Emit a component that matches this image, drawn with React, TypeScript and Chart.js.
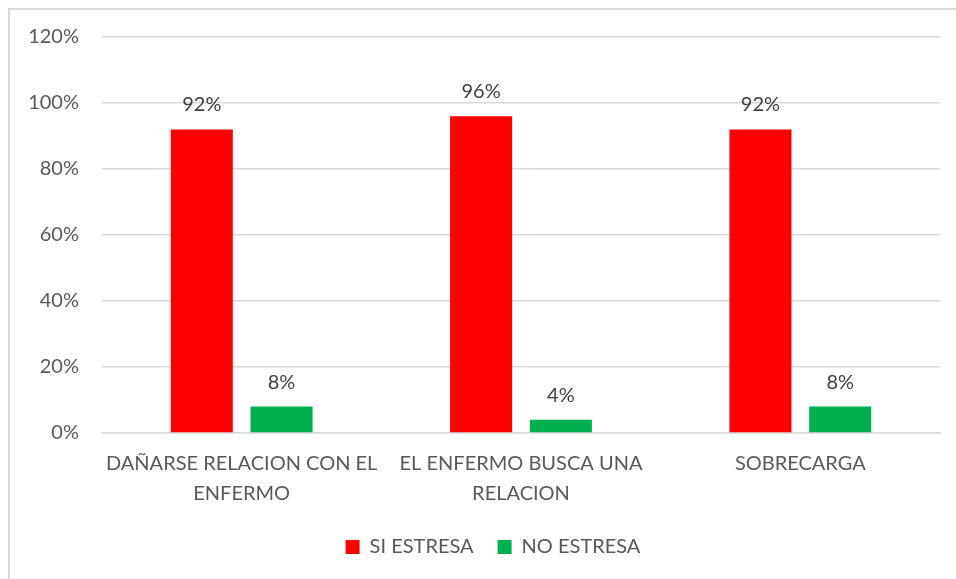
import { useEffect, useRef } from "react";
import { Chart, registerables } from "chart.js";

Chart.register(...registerables);

const categories: (string | string[])[] = [
  ["DAÑARSE RELACION CON EL", "ENFERMO"],
  ["EL ENFERMO BUSCA UNA", "RELACION"],
  "SOBRECARGA",
];
const siEstresa = [92, 96, 92];
const noEstresa = [8, 4, 8];
const seriesNames = ["SI ESTRESA", "NO ESTRESA"];
const yMax = 120;
const yStep = 20;

const FONT = "Lato";

const dataLabels = {
  id: "dataLabels",
  afterDatasetsDraw(chart: any) {
    const ctx = chart.ctx;
    ctx.save();
    ctx.font = `20px ${FONT}`;
    ctx.fillStyle = "#404040";
    ctx.textAlign = "center";
    ctx.textBaseline = "alphabetic";
    chart.data.datasets.forEach((ds: any, i: number) => {
      const meta = chart.getDatasetMeta(i);
      meta.data.forEach((el: any, j: number) => {
        ctx.fillText(ds.data[j] + "%", el.x, el.y - 18);
      });
    });
    ctx.restore();
  },
};

const legendShift = {
  id: "legendShift",
  afterLayout(chart: any) {
    const lg = chart.legend;
    if (lg) {
      lg.left += 18;
      lg.right += 18;
    }
  },
};

export default function App() {
  const ref = useRef<HTMLCanvasElement>(null);
  useEffect(() => {
    if (!ref.current) return;
    const chart = new Chart(ref.current, {
      type: "bar",
      data: {
        labels: categories,
        datasets: [
          {
            label: seriesNames[0],
            data: siEstresa,
            backgroundColor: "#FF0000",
            categoryPercentage: 0.571,
            barPercentage: 0.778,
          },
          {
            label: seriesNames[1],
            data: noEstresa,
            backgroundColor: "#00B050",
            categoryPercentage: 0.571,
            barPercentage: 0.778,
          },
        ],
      },
      options: {
        animation: false,
        responsive: true,
        maintainAspectRatio: false,
        layout: { padding: { left: 0, right: 16, top: 27, bottom: 12 } },
        scales: {
          x: {
            grid: { display: false, drawTicks: false },
            border: { display: true, color: "#d9d9d9", width: 1.5 },
            afterFit(scale: any) {
              scale.height -= 12;
            },
            ticks: {
              color: "#595959",
              font: { family: FONT, size: 20, lineHeight: 1.5 },
              padding: 16,
              maxRotation: 0,
              autoSkip: false,
            },
          },
          y: {
            min: 0,
            max: yMax,
            grid: { color: "#d9d9d9", lineWidth: 1.5, drawTicks: false },
            border: { display: false },
            afterFit(scale: any) {
              scale.width = 92;
              scale.paddingTop = 12;
              scale.paddingBottom = 12;
            },
            ticks: {
              stepSize: yStep,
              color: "#595959",
              font: { family: FONT, size: 20 },
              padding: 23,
              callback: (v: any) => v + "%",
            },
          },
        },
        plugins: {
          legend: {
            position: "bottom",
            labels: {
              color: "#595959",
              font: { family: FONT, size: 20 },
              boxWidth: 14,
              boxHeight: 14,
              padding: 24,
            },
          },
          tooltip: { enabled: false },
        },
      },
      plugins: [dataLabels, legendShift],
    });
    (document as any).fonts?.load(`20px ${FONT}`).then(() => chart.update());
    return () => chart.destroy();
  }, []);

  return (
    <div
      style={{
        position: "fixed",
        left: 8,
        top: 8,
        width: 948,
        height: 571,
        boxSizing: "border-box",
        borderTop: "2px solid #d9d9d9",
        borderLeft: "2px solid #d9d9d9",
        background: "#fff",
      }}
    >
      <div style={{ position: "relative", width: 946, height: 569 }}>
        <canvas ref={ref} />
      </div>
    </div>
  );
}
